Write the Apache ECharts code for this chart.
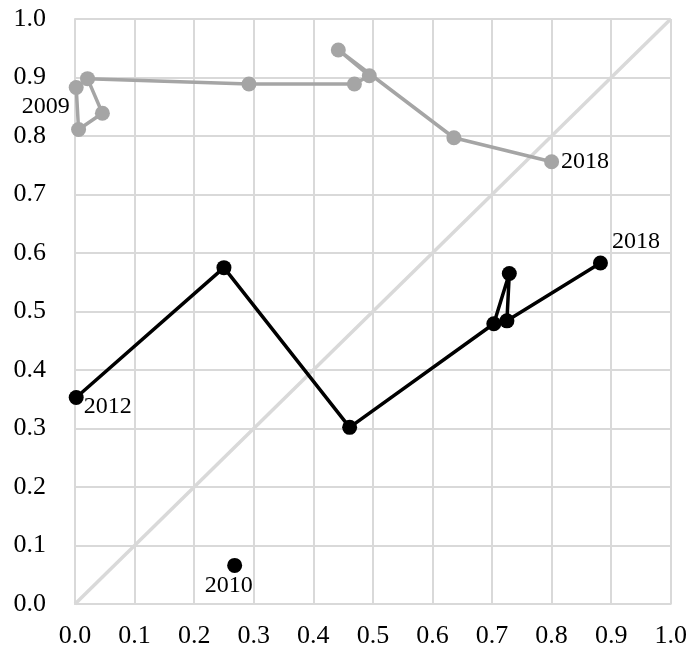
<!DOCTYPE html>
<html>
<head>
<meta charset="utf-8">
<script src="https://cdn.jsdelivr.net/npm/echarts@6/dist/echarts.min.js"></script>
<style>html,body{margin:0;padding:0;background:#fff}#c{width:690px;height:652px}</style>
</head>
<body>
<div id="c"></div>
<script>
var years = [2009, 2010, 2011, 2012, 2013, 2014, 2015, 2016, 2017, 2018];
var grayX = [0.002, 0.006, 0.046, 0.021, 0.292, 0.469, 0.494, 0.442, 0.636, 0.800];
var grayY = [0.883, 0.811, 0.839, 0.898, 0.889, 0.889, 0.903, 0.947, 0.797, 0.756];
var blackX = [null, 0.268, null, 0.002, 0.250, 0.461, 0.703, 0.729, 0.725, 0.882];
var blackY = [null, 0.066, null, 0.353, 0.575, 0.302, 0.479, 0.565, 0.484, 0.583];
var axisTicks = [0, 0.1, 0.2, 0.3, 0.4, 0.5, 0.6, 0.7, 0.8, 0.9, 1.0];
var diagonal = [[0, 0], [1, 1]];

var font = '"Liberation Serif", "Times New Roman", serif';
var labelStyle = {show: true, color: '#000', fontFamily: font, fontSize: 24, formatter: function (p) { return p.data.name; }};

function build(xs, ys, labels) {
  var out = [];
  for (var i = 0; i < years.length; i++) {
    if (xs[i] === null) { out.push({name: String(years[i]), value: ['-', '-']}); continue; }
    var d = {name: String(years[i]), value: [xs[i], ys[i]]};
    if (labels[years[i]]) {
      d.label = Object.assign({}, labelStyle, labels[years[i]]);
    }
    out.push(d);
  }
  return out;
}

var grayData = build(grayX, grayY, {
  2009: {position: 'left', distance: -1, offset: [0, 19]},
  2018: {position: 'right', distance: 2}
});
var blackData = build(blackX, blackY, {
  2010: {position: 'bottom', distance: 1, offset: [-6, 0]},
  2012: {position: 'right', distance: 0, offset: [0, 9]},
  2018: {position: 'right', distance: 4, offset: [0, -21]}
});

var axisCommon = {
  type: 'value', min: 0, max: 1, interval: 0.1,
  axisLine: {show: true, lineStyle: {color: '#d9d9d9', width: 2}},
  axisTick: {show: false},
  splitLine: {show: true, lineStyle: {color: '#d9d9d9', width: 2}},
  axisLabel: {color: '#000', fontFamily: font, fontSize: 26, formatter: function (v) { return v.toFixed(1); }}
};

var chart = echarts.init(document.getElementById('c'));
chart.setOption({
  animation: false,
  grid: {left: 75, right: 15, top: 19, bottom: 48, containLabel: false},
  xAxis: Object.assign({}, axisCommon, {axisLabel: Object.assign({}, axisCommon.axisLabel, {margin: 19})}),
  yAxis: Object.assign({}, axisCommon, {axisLabel: Object.assign({}, axisCommon.axisLabel, {margin: 29})}),
  series: [
    {type: 'line', data: diagonal, symbol: 'none', silent: true, z: 1,
     lineStyle: {color: '#d9d9d9', width: 3.5}},
    {type: 'line', data: grayData, symbol: 'circle', symbolSize: 15, z: 3,
     itemStyle: {color: '#a5a5a5'}, lineStyle: {color: '#a5a5a5', width: 3.5}, connectNulls: false},
    {type: 'line', data: blackData, symbol: 'circle', symbolSize: 15, z: 4,
     itemStyle: {color: '#000'}, lineStyle: {color: '#000', width: 3.5}, connectNulls: false}
  ]
});
</script>
</body>
</html>
